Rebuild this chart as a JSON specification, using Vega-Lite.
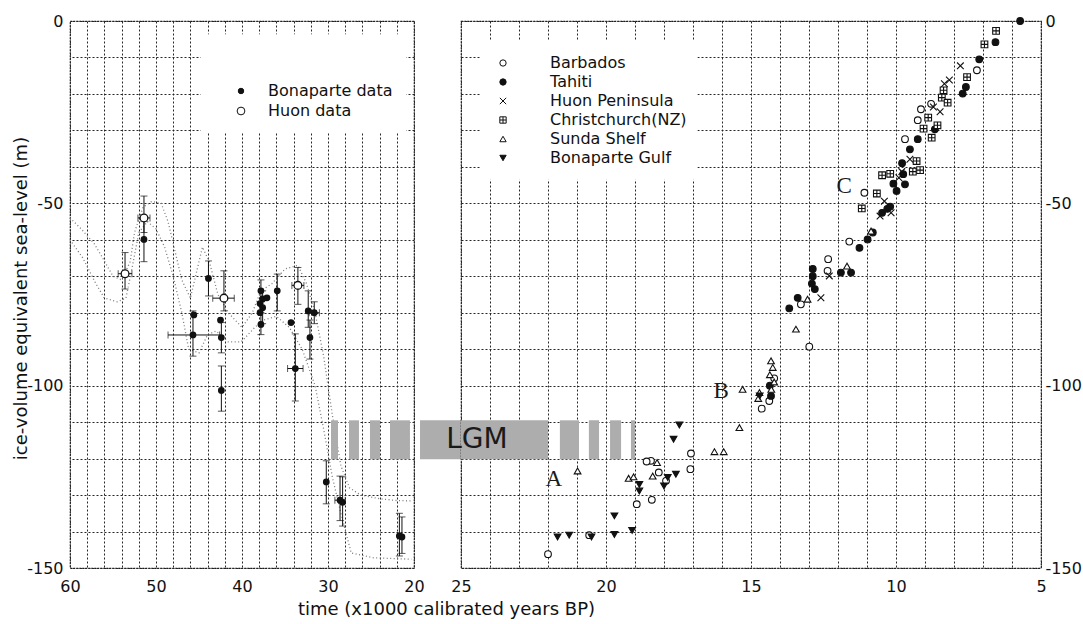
{
  "$schema": "https://vega.github.io/schema/vega-lite/v6.json",
  "background": "white",
  "padding": {"left": 11, "top": 12, "right": 0, "bottom": 5},
  "bounds": "flush",
  "spacing": 47,
  "config": {
    "font": "DejaVu Sans",
    "view": {"stroke": "#1a1a1a", "strokeWidth": 1.2, "strokeDash": [2, 1]},
    "axis": {
      "grid": true, "gridColor": "#262626", "gridDash": [2, 2], "gridWidth": 1, "gridOpacity": 1,
      "domain": false, "ticks": false, "tickCount": 60,
      "labelFont": "DejaVu Sans", "labelFontSize": 16, "labelColor": "#111",
      "labelFlush": false, "labelOverlap": false, "labelBound": false,
      "titleFont": "DejaVu Sans", "titleFontSize": 18, "titleFontWeight": "normal", "titleColor": "#111"
    },
    "legend": {"labelFont": "DejaVu Sans", "labelColor": "#111", "symbolStrokeWidth": 1}
  },
  "resolve": {
    "scale": {"x": "independent", "y": "independent", "shape": "independent", "fill": "independent", "size": "independent", "stroke": "independent"},
    "axis": {"x": "independent", "y": "independent"},
    "legend": {"shape": "independent", "fill": "independent", "size": "independent", "stroke": "independent"}
  },
  "datasets": {
    "left": [
      {"src": "Huon data", "x": 53.6, "y": -69.3, "ylo": -73.5, "yhi": -63.5, "xlo": 54.4, "xhi": 52.8},
      {"src": "Huon data", "x": 51.4, "y": -54, "ylo": -58, "yhi": -48, "xlo": 52.1, "xhi": 50.7},
      {"src": "Huon data", "x": 42.1, "y": -76, "ylo": -79.5, "yhi": -68.5, "xlo": 43.4, "xhi": 40.9},
      {"src": "Huon data", "x": 33.5, "y": -72.5, "ylo": -77.7, "yhi": -67.6, "xlo": 34.2, "xhi": 32.8},
      {"src": "Bonaparte data", "x": 51.4, "y": -59.9, "ylo": -66, "yhi": -55},
      {"src": "Bonaparte data", "x": 43.9, "y": -70.6, "ylo": -75.4, "yhi": -65.8},
      {"src": "Bonaparte data", "x": 45.7, "y": -86.1, "ylo": -91.9, "yhi": -79.5, "xlo": 48.6, "xhi": 42.6},
      {"src": "Bonaparte data", "x": 45.6, "y": -80.6},
      {"src": "Bonaparte data", "x": 42.4, "y": -86.8, "ylo": -91, "yhi": -82.7},
      {"src": "Bonaparte data", "x": 42.5, "y": -82},
      {"src": "Bonaparte data", "x": 42.4, "y": -101.3, "ylo": -107, "yhi": -94.6},
      {"src": "Bonaparte data", "x": 37.8, "y": -74, "ylo": -77, "yhi": -71},
      {"src": "Bonaparte data", "x": 37.6, "y": -76.2},
      {"src": "Bonaparte data", "x": 37.9, "y": -77.5},
      {"src": "Bonaparte data", "x": 37.6, "y": -78.6, "ylo": -83, "yhi": -74},
      {"src": "Bonaparte data", "x": 37.9, "y": -80},
      {"src": "Bonaparte data", "x": 37.8, "y": -83.2, "ylo": -86, "yhi": -80},
      {"src": "Bonaparte data", "x": 37.1, "y": -75.9},
      {"src": "Bonaparte data", "x": 35.9, "y": -74, "ylo": -79.5, "yhi": -69.4},
      {"src": "Bonaparte data", "x": 32.3, "y": -79.5, "ylo": -84, "yhi": -74},
      {"src": "Bonaparte data", "x": 31.6, "y": -80, "ylo": -83, "yhi": -77, "xlo": 32.2, "xhi": 31.0},
      {"src": "Bonaparte data", "x": 32.1, "y": -86.8, "ylo": -92.7, "yhi": -82},
      {"src": "Bonaparte data", "x": 34.3, "y": -82.7},
      {"src": "Bonaparte data", "x": 33.8, "y": -95.3, "ylo": -104.2, "yhi": -85.8, "xlo": 34.7, "xhi": 32.9},
      {"src": "Bonaparte data", "x": 30.2, "y": -126.4, "ylo": -132.4, "yhi": -120.6},
      {"src": "Bonaparte data", "x": 28.6, "y": -131.4, "ylo": -137, "yhi": -124.8, "xlo": 29.2, "xhi": 28.0},
      {"src": "Bonaparte data", "x": 28.3, "y": -132, "ylo": -138.5, "yhi": -125},
      {"src": "Bonaparte data", "x": 21.7, "y": -141.2, "ylo": -146.7, "yhi": -135},
      {"src": "Bonaparte data", "x": 21.4, "y": -141.5, "ylo": -146, "yhi": -136}
    ],
    "curves": [
      {"c": "u", "x": 60, "y": -54}, {"c": "u", "x": 58.7, "y": -57}, {"c": "u", "x": 57.2, "y": -61}, {"c": "u", "x": 56.2, "y": -65},
      {"c": "u", "x": 55, "y": -70}, {"c": "u", "x": 54, "y": -71}, {"c": "u", "x": 53, "y": -66}, {"c": "u", "x": 52.5, "y": -58},
      {"c": "u", "x": 51.5, "y": -51}, {"c": "u", "x": 50.5, "y": -49.5}, {"c": "u", "x": 49.4, "y": -50}, {"c": "u", "x": 48.6, "y": -55},
      {"c": "u", "x": 47.7, "y": -64}, {"c": "u", "x": 47, "y": -71}, {"c": "u", "x": 46, "y": -76}, {"c": "u", "x": 45.2, "y": -68},
      {"c": "u", "x": 44.6, "y": -62}, {"c": "u", "x": 43.8, "y": -66}, {"c": "u", "x": 42.8, "y": -75}, {"c": "u", "x": 41.6, "y": -80},
      {"c": "u", "x": 40, "y": -84}, {"c": "u", "x": 38.8, "y": -80}, {"c": "u", "x": 37.8, "y": -74}, {"c": "u", "x": 36.5, "y": -72},
      {"c": "u", "x": 35, "y": -68}, {"c": "u", "x": 33.5, "y": -67}, {"c": "u", "x": 32.5, "y": -72}, {"c": "u", "x": 31.5, "y": -80},
      {"c": "u", "x": 30.5, "y": -92}, {"c": "u", "x": 29.5, "y": -108}, {"c": "u", "x": 28.5, "y": -122}, {"c": "u", "x": 27.5, "y": -128},
      {"c": "u", "x": 26.2, "y": -130}, {"c": "u", "x": 24, "y": -131}, {"c": "u", "x": 22, "y": -131.5}, {"c": "u", "x": 20.3, "y": -131.6},
      {"c": "l", "x": 60, "y": -60}, {"c": "l", "x": 58.5, "y": -65}, {"c": "l", "x": 57, "y": -72}, {"c": "l", "x": 56, "y": -76},
      {"c": "l", "x": 54.5, "y": -77}, {"c": "l", "x": 53.5, "y": -76}, {"c": "l", "x": 52.8, "y": -68}, {"c": "l", "x": 52, "y": -58},
      {"c": "l", "x": 51, "y": -55}, {"c": "l", "x": 50, "y": -57}, {"c": "l", "x": 49, "y": -62}, {"c": "l", "x": 48, "y": -70},
      {"c": "l", "x": 47, "y": -80}, {"c": "l", "x": 46.2, "y": -90}, {"c": "l", "x": 45, "y": -91}, {"c": "l", "x": 44, "y": -86},
      {"c": "l", "x": 43, "y": -85}, {"c": "l", "x": 41.6, "y": -88}, {"c": "l", "x": 40.1, "y": -88}, {"c": "l", "x": 38.5, "y": -84},
      {"c": "l", "x": 37.5, "y": -82}, {"c": "l", "x": 36, "y": -81}, {"c": "l", "x": 34.5, "y": -84}, {"c": "l", "x": 33, "y": -90},
      {"c": "l", "x": 31.5, "y": -100}, {"c": "l", "x": 30.5, "y": -112}, {"c": "l", "x": 29.5, "y": -125}, {"c": "l", "x": 28.5, "y": -135},
      {"c": "l", "x": 27.3, "y": -145.9}, {"c": "l", "x": 24.7, "y": -147.2}, {"c": "l", "x": 20.3, "y": -147.6}
    ],
    "lgmLeft": [
      {"x1": 29.65, "x2": 28.84, "y1": -109.5, "y2": -120.2},
      {"x1": 27.56, "x2": 26.4, "y1": -109.5, "y2": -120.2},
      {"x1": 25.12, "x2": 23.95, "y1": -109.5, "y2": -120.2},
      {"x1": 22.79, "x2": 20.47, "y1": -109.5, "y2": -120.2},
      {"x1": 19.3, "x2": 14.4, "y1": -109.5, "y2": -120.2}
    ],
    "lgmRight": [
      {"x1": 25, "x2": 22.0, "y1": -109.5, "y2": -120.2},
      {"x1": 21.59, "x2": 20.93, "y1": -109.5, "y2": -120.2},
      {"x1": 20.59, "x2": 20.24, "y1": -109.5, "y2": -120.2},
      {"x1": 19.86, "x2": 19.48, "y1": -109.5, "y2": -120.2},
      {"x1": 19.14, "x2": 19.0, "y1": -109.5, "y2": -120.2}
    ],
    "right": [
      {"site": "Barbados", "x": 22.0, "y": -146.2}, {"site": "Barbados", "x": 20.58, "y": -141}, {"site": "Barbados", "x": 18.94, "y": -132.5},
      {"site": "Barbados", "x": 18.42, "y": -131.3}, {"site": "Barbados", "x": 18.45, "y": -120.6}, {"site": "Barbados", "x": 18.18, "y": -123.8},
      {"site": "Barbados", "x": 17.93, "y": -126.1}, {"site": "Barbados", "x": 17.07, "y": -118.6}, {"site": "Barbados", "x": 17.09, "y": -122.9},
      {"site": "Barbados", "x": 18.6, "y": -120.8}, {"site": "Barbados", "x": 14.63, "y": -106.3}, {"site": "Barbados", "x": 14.37, "y": -104.2},
      {"site": "Barbados", "x": 14.2, "y": -98}, {"site": "Barbados", "x": 12.99, "y": -89.3}, {"site": "Barbados", "x": 13.28, "y": -77.7},
      {"site": "Barbados", "x": 12.36, "y": -68.5}, {"site": "Barbados", "x": 12.34, "y": -65.3}, {"site": "Barbados", "x": 11.61, "y": -60.5},
      {"site": "Barbados", "x": 11.09, "y": -47.1}, {"site": "Barbados", "x": 9.69, "y": -32.4}, {"site": "Barbados", "x": 9.25, "y": -27.2},
      {"site": "Barbados", "x": 9.14, "y": -24.2}, {"site": "Barbados", "x": 8.79, "y": -22.7}, {"site": "Barbados", "x": 7.21, "y": -13.5},
      {"site": "Tahiti", "x": 5.72, "y": 0}, {"site": "Tahiti", "x": 6.57, "y": -5.8}, {"site": "Tahiti", "x": 7.13, "y": -10.5},
      {"site": "Tahiti", "x": 7.59, "y": -18.1}, {"site": "Tahiti", "x": 7.7, "y": -19.9}, {"site": "Tahiti", "x": 8.66, "y": -29.7},
      {"site": "Tahiti", "x": 9.25, "y": -32.4}, {"site": "Tahiti", "x": 9.52, "y": -35.2}, {"site": "Tahiti", "x": 9.79, "y": -39},
      {"site": "Tahiti", "x": 9.75, "y": -42}, {"site": "Tahiti", "x": 10.09, "y": -44.6}, {"site": "Tahiti", "x": 9.98, "y": -46.6},
      {"site": "Tahiti", "x": 9.69, "y": -44.8}, {"site": "Tahiti", "x": 10.2, "y": -50.9}, {"site": "Tahiti", "x": 10.48, "y": -52.6},
      {"site": "Tahiti", "x": 10.3, "y": -51.5}, {"site": "Tahiti", "x": 10.8, "y": -58}, {"site": "Tahiti", "x": 10.98, "y": -59.9},
      {"site": "Tahiti", "x": 11.26, "y": -62.2}, {"site": "Tahiti", "x": 11.55, "y": -69}, {"site": "Tahiti", "x": 11.9, "y": -69},
      {"site": "Tahiti", "x": 12.87, "y": -68}, {"site": "Tahiti", "x": 12.87, "y": -70}, {"site": "Tahiti", "x": 12.9, "y": -72},
      {"site": "Tahiti", "x": 12.8, "y": -73.5}, {"site": "Tahiti", "x": 13.39, "y": -75.9}, {"site": "Tahiti", "x": 13.68, "y": -78.8},
      {"site": "Tahiti", "x": 14.31, "y": -102.8}, {"site": "Tahiti", "x": 14.35, "y": -100},
      {"site": "Huon Peninsula", "x": 7.78, "y": -12.3}, {"site": "Huon Peninsula", "x": 8.16, "y": -16.2}, {"site": "Huon Peninsula", "x": 8.33, "y": -17.2},
      {"site": "Huon Peninsula", "x": 8.71, "y": -23.6}, {"site": "Huon Peninsula", "x": 8.48, "y": -24.9}, {"site": "Huon Peninsula", "x": 9.52, "y": -37.9},
      {"site": "Huon Peninsula", "x": 9.8, "y": -41.3}, {"site": "Huon Peninsula", "x": 9.9, "y": -43}, {"site": "Huon Peninsula", "x": 10.4, "y": -49.4},
      {"site": "Huon Peninsula", "x": 10.17, "y": -52.6}, {"site": "Huon Peninsula", "x": 10.55, "y": -53.5}, {"site": "Huon Peninsula", "x": 12.3, "y": -69.9},
      {"site": "Huon Peninsula", "x": 12.59, "y": -75.9},
      {"site": "Christchurch(NZ)", "x": 6.55, "y": -2.7}, {"site": "Christchurch(NZ)", "x": 6.95, "y": -6.4}, {"site": "Christchurch(NZ)", "x": 7.55, "y": -15.4},
      {"site": "Christchurch(NZ)", "x": 8.36, "y": -19}, {"site": "Christchurch(NZ)", "x": 8.42, "y": -21}, {"site": "Christchurch(NZ)", "x": 8.22, "y": -22.4},
      {"site": "Christchurch(NZ)", "x": 8.89, "y": -26.5}, {"site": "Christchurch(NZ)", "x": 9.05, "y": -29.5}, {"site": "Christchurch(NZ)", "x": 8.57, "y": -28.6},
      {"site": "Christchurch(NZ)", "x": 8.77, "y": -32}, {"site": "Christchurch(NZ)", "x": 9.29, "y": -38.4}, {"site": "Christchurch(NZ)", "x": 9.17, "y": -40.9},
      {"site": "Christchurch(NZ)", "x": 9.42, "y": -41.3}, {"site": "Christchurch(NZ)", "x": 10.2, "y": -41.9}, {"site": "Christchurch(NZ)", "x": 10.48, "y": -42.3},
      {"site": "Christchurch(NZ)", "x": 10.66, "y": -47.3}, {"site": "Christchurch(NZ)", "x": 11.18, "y": -51.4},
      {"site": "Sunda Shelf", "x": 20.98, "y": -123.4}, {"site": "Sunda Shelf", "x": 19.22, "y": -125.4}, {"site": "Sunda Shelf", "x": 19.05, "y": -125},
      {"site": "Sunda Shelf", "x": 18.39, "y": -124.8}, {"site": "Sunda Shelf", "x": 18.24, "y": -121.1}, {"site": "Sunda Shelf", "x": 16.26, "y": -118.1},
      {"site": "Sunda Shelf", "x": 15.94, "y": -118.1}, {"site": "Sunda Shelf", "x": 15.4, "y": -111.5}, {"site": "Sunda Shelf", "x": 15.29, "y": -101},
      {"site": "Sunda Shelf", "x": 14.71, "y": -101.9}, {"site": "Sunda Shelf", "x": 14.75, "y": -103.5}, {"site": "Sunda Shelf", "x": 14.31, "y": -93.2},
      {"site": "Sunda Shelf", "x": 14.25, "y": -95}, {"site": "Sunda Shelf", "x": 14.35, "y": -97}, {"site": "Sunda Shelf", "x": 14.2, "y": -99},
      {"site": "Sunda Shelf", "x": 14.3, "y": -101}, {"site": "Sunda Shelf", "x": 13.45, "y": -84.5}, {"site": "Sunda Shelf", "x": 13.05, "y": -76.3},
      {"site": "Sunda Shelf", "x": 11.69, "y": -67.2}, {"site": "Sunda Shelf", "x": 10.86, "y": -57.6},
      {"site": "Bonaparte Gulf", "x": 21.67, "y": -141.5}, {"site": "Bonaparte Gulf", "x": 21.27, "y": -141}, {"site": "Bonaparte Gulf", "x": 20.5, "y": -141.5},
      {"site": "Bonaparte Gulf", "x": 19.71, "y": -140.8}, {"site": "Bonaparte Gulf", "x": 19.71, "y": -135.7}, {"site": "Bonaparte Gulf", "x": 19.1, "y": -139.7},
      {"site": "Bonaparte Gulf", "x": 18.85, "y": -128.9}, {"site": "Bonaparte Gulf", "x": 18.85, "y": -127.1}, {"site": "Bonaparte Gulf", "x": 18.0, "y": -127.5},
      {"site": "Bonaparte Gulf", "x": 17.87, "y": -125.2}, {"site": "Bonaparte Gulf", "x": 17.59, "y": -124.3}, {"site": "Bonaparte Gulf", "x": 17.67, "y": -114.7},
      {"site": "Bonaparte Gulf", "x": 17.47, "y": -110.8}, {"site": "Bonaparte Gulf", "x": 14.7, "y": -102.8}
    ]
  },
  "hconcat": [
    {
      "width": 344,
      "height": 547,
      "layer": [
        {
          "data": {"values": [{"x1": 44.8, "x2": 20.9, "y1": -3.6, "y2": -30.6}]},
          "mark": {"type": "rect", "fill": "white"},
          "encoding": {
            "x": {"field": "x1", "type": "quantitative", "title": "time (x1000 calibrated years BP)", "scale": {"domain": [20, 60], "reverse": true, "nice": false, "zero": false},
              "axis": {"values": [20, 22, 24, 26, 28, 30, 32, 34, 36, 38, 40, 42, 44, 46, 48, 50, 52, 54, 56, 58, 60], "tickCount": 60,
                "labelExpr": "datum.value % 10 === 0 ? '' + datum.value : ''", "labelPadding": 10,
                "titleX": 376, "titleY": 41, "titleBaseline": "middle"}},
            "x2": {"field": "x2"},
            "y": {"field": "y1", "type": "quantitative", "title": "ice-volume equivalent sea-level (m)", "scale": {"domain": [-150, 0], "nice": false, "zero": false},
              "axis": {"values": [-150, -140, -130, -120, -110, -100, -90, -80, -70, -60, -50, -40, -30, -20, -10, 0], "tickCount": 60,
                "labelExpr": "datum.value % 50 === 0 ? '' + datum.value : ''", "labelPadding": 7,
                "titleX": -49, "titleY": 277, "titleBaseline": "middle"}},
            "y2": {"field": "y2"}
          }
        },
        {
          "data": {"name": "curves"},
          "mark": {"type": "line", "stroke": "#7a7a7a", "strokeDash": [1, 2.5], "strokeWidth": 1.3},
          "encoding": {
            "x": {"field": "x", "type": "quantitative", "title": "time (x1000 calibrated years BP)", "scale": {"domain": [20, 60], "reverse": true, "nice": false, "zero": false}},
            "y": {"field": "y", "type": "quantitative", "title": "ice-volume equivalent sea-level (m)", "scale": {"domain": [-150, 0], "nice": false, "zero": false}},
            "detail": {"field": "c"}
          }
        },
        {
          "data": {"name": "left"},
          "transform": [{"filter": "datum.ylo != null"}],
          "mark": {"type": "rule", "stroke": "#111", "strokeWidth": 1},
          "encoding": {
            "x": {"field": "x", "type": "quantitative", "title": "time (x1000 calibrated years BP)", "scale": {"domain": [20, 60], "reverse": true, "nice": false, "zero": false}},
            "y": {"field": "ylo", "type": "quantitative", "title": "ice-volume equivalent sea-level (m)", "scale": {"domain": [-150, 0], "nice": false, "zero": false}},
            "y2": {"field": "yhi"}
          }
        },
        {
          "data": {"name": "left"},
          "transform": [{"filter": "datum.xlo != null"}],
          "mark": {"type": "rule", "stroke": "#111", "strokeWidth": 1},
          "encoding": {
            "x": {"field": "xlo", "type": "quantitative", "title": "time (x1000 calibrated years BP)", "scale": {"domain": [20, 60], "reverse": true, "nice": false, "zero": false}},
            "x2": {"field": "xhi"},
            "y": {"field": "y", "type": "quantitative", "title": "ice-volume equivalent sea-level (m)", "scale": {"domain": [-150, 0], "nice": false, "zero": false}}
          }
        },
        {
          "data": {"name": "left"},
          "transform": [{"filter": "datum.ylo != null"}],
          "mark": {"type": "tick", "orient": "horizontal", "color": "#111", "size": 7, "thickness": 1},
          "encoding": {
            "x": {"field": "x", "type": "quantitative", "title": "time (x1000 calibrated years BP)", "scale": {"domain": [20, 60], "reverse": true, "nice": false, "zero": false}},
            "y": {"field": "ylo", "type": "quantitative", "title": "ice-volume equivalent sea-level (m)", "scale": {"domain": [-150, 0], "nice": false, "zero": false}}
          }
        },
        {
          "data": {"name": "left"},
          "transform": [{"filter": "datum.yhi != null"}],
          "mark": {"type": "tick", "orient": "horizontal", "color": "#111", "size": 7, "thickness": 1},
          "encoding": {
            "x": {"field": "x", "type": "quantitative", "title": "time (x1000 calibrated years BP)", "scale": {"domain": [20, 60], "reverse": true, "nice": false, "zero": false}},
            "y": {"field": "yhi", "type": "quantitative", "title": "ice-volume equivalent sea-level (m)", "scale": {"domain": [-150, 0], "nice": false, "zero": false}}
          }
        },
        {
          "data": {"name": "left"},
          "transform": [{"filter": "datum.xlo != null"}],
          "mark": {"type": "tick", "orient": "vertical", "color": "#111", "size": 7, "thickness": 1},
          "encoding": {
            "x": {"field": "xlo", "type": "quantitative", "title": "time (x1000 calibrated years BP)", "scale": {"domain": [20, 60], "reverse": true, "nice": false, "zero": false}},
            "y": {"field": "y", "type": "quantitative", "title": "ice-volume equivalent sea-level (m)", "scale": {"domain": [-150, 0], "nice": false, "zero": false}}
          }
        },
        {
          "data": {"name": "left"},
          "transform": [{"filter": "datum.xhi != null"}],
          "mark": {"type": "tick", "orient": "vertical", "color": "#111", "size": 7, "thickness": 1},
          "encoding": {
            "x": {"field": "xhi", "type": "quantitative", "title": "time (x1000 calibrated years BP)", "scale": {"domain": [20, 60], "reverse": true, "nice": false, "zero": false}},
            "y": {"field": "y", "type": "quantitative", "title": "ice-volume equivalent sea-level (m)", "scale": {"domain": [-150, 0], "nice": false, "zero": false}}
          }
        },
        {
          "data": {"name": "left"},
          "mark": {"type": "point", "color": "#111", "filled": false, "strokeWidth": 1.3, "opacity": 1},
          "encoding": {
            "x": {"field": "x", "type": "quantitative", "title": "time (x1000 calibrated years BP)", "scale": {"domain": [20, 60], "reverse": true, "nice": false, "zero": false}},
            "y": {"field": "y", "type": "quantitative", "title": "ice-volume equivalent sea-level (m)", "scale": {"domain": [-150, 0], "nice": false, "zero": false}},
            "shape": {"field": "src", "type": "nominal", "scale": {"domain": ["Bonaparte data", "Huon data"], "range": ["circle", "circle"]},
              "legend": {"orient": "none", "legendX": 163, "legendY": 62, "title": null, "labelFontSize": 16, "rowPadding": 4, "labelOffset": 19}},
            "fill": {"field": "src", "type": "nominal", "scale": {"domain": ["Bonaparte data", "Huon data"], "range": ["#111", "white"]},
              "legend": {"orient": "none", "legendX": 163, "legendY": 62, "title": null, "labelFontSize": 16, "rowPadding": 4, "labelOffset": 19}},
            "stroke": {"field": "src", "type": "nominal", "scale": {"domain": ["Bonaparte data", "Huon data"], "range": ["#111", "#111"]},
              "legend": {"orient": "none", "legendX": 163, "legendY": 62, "title": null, "labelFontSize": 16, "rowPadding": 4, "labelOffset": 19}},
            "size": {"field": "src", "type": "nominal", "scale": {"domain": ["Bonaparte data", "Huon data"], "range": [30, 60]},
              "legend": {"orient": "none", "legendX": 163, "legendY": 62, "title": null, "labelFontSize": 16, "rowPadding": 4, "labelOffset": 19}}
          }
        },
        {
          "data": {"name": "lgmLeft"},
          "mark": {"type": "rect", "fill": "#adadad"},
          "encoding": {
            "x": {"field": "x1", "type": "quantitative", "title": "time (x1000 calibrated years BP)", "scale": {"domain": [20, 60], "reverse": true, "nice": false, "zero": false}},
            "x2": {"field": "x2"},
            "y": {"field": "y1", "type": "quantitative", "title": "ice-volume equivalent sea-level (m)", "scale": {"domain": [-150, 0], "nice": false, "zero": false}},
            "y2": {"field": "y2"}
          }
        }
      ]
    },
    {
      "width": 580,
      "height": 547,
      "layer": [
        {
          "data": {"values": [{"x1": 24.31, "x2": 16.85, "y1": -5.5, "y2": -43.5}]},
          "mark": {"type": "rect", "fill": "white"},
          "encoding": {
            "x": {"field": "x1", "type": "quantitative", "title": null, "scale": {"domain": [5, 25], "reverse": true, "nice": false, "zero": false},
              "axis": {"values": [5, 6, 7, 8, 9, 10, 11, 12, 13, 14, 15, 16, 17, 18, 19, 20, 21, 22, 23, 24, 25], "tickCount": 60,
                "labelExpr": "datum.value % 5 === 0 ? '' + datum.value : ''", "labelPadding": 10}},
            "x2": {"field": "x2"},
            "y": {"field": "y1", "type": "quantitative", "title": null, "scale": {"domain": [-150, 0], "nice": false, "zero": false},
              "axis": {"orient": "right", "values": [-150, -140, -130, -120, -110, -100, -90, -80, -70, -60, -50, -40, -30, -20, -10, 0], "tickCount": 60,
                "labelExpr": "datum.value % 50 === 0 ? '' + datum.value : ''", "labelPadding": 4}},
            "y2": {"field": "y2"}
          }
        },
        {
          "data": {"name": "lgmRight"},
          "mark": {"type": "rect", "fill": "#adadad"},
          "encoding": {
            "x": {"field": "x1", "type": "quantitative", "title": null, "scale": {"domain": [5, 25], "reverse": true, "nice": false, "zero": false}},
            "x2": {"field": "x2"},
            "y": {"field": "y1", "type": "quantitative", "title": null, "scale": {"domain": [-150, 0], "nice": false, "zero": false}},
            "y2": {"field": "y2"}
          }
        },
        {
          "data": {"values": [{"t": "LGM", "x": 24.45, "y": -114.9}]},
          "mark": {"type": "text", "font": "DejaVu Sans", "fontSize": 28, "color": "#1a1a1a", "align": "center", "baseline": "middle"},
          "encoding": {
            "x": {"field": "x", "type": "quantitative", "title": null, "scale": {"domain": [5, 25], "reverse": true, "nice": false, "zero": false}},
            "y": {"field": "y", "type": "quantitative", "title": null, "scale": {"domain": [-150, 0], "nice": false, "zero": false}},
            "text": {"field": "t"}
          }
        },
        {
          "data": {"name": "right"},
          "mark": {"type": "point", "color": "#111", "filled": false, "strokeWidth": 1.1, "opacity": 1, "size": 45},
          "encoding": {
            "x": {"field": "x", "type": "quantitative", "title": null, "scale": {"domain": [5, 25], "reverse": true, "nice": false, "zero": false}},
            "y": {"field": "y", "type": "quantitative", "title": null, "scale": {"domain": [-150, 0], "nice": false, "zero": false}},
            "shape": {"field": "site", "type": "nominal",
              "scale": {"domain": ["Barbados", "Tahiti", "Huon Peninsula", "Christchurch(NZ)", "Sunda Shelf", "Bonaparte Gulf"],
                "range": ["circle", "circle", "M-1,-1L1,1M1,-1L-1,1", "M-1,-1H1V1H-1ZM0,-1V1M-1,0H1", "triangle-up", "triangle-down"]},
              "legend": {"orient": "none", "legendX": 34, "legendY": 34, "title": null, "labelFontSize": 16, "symbolSize": 40, "rowPadding": 3, "labelOffset": 39}},
            "fill": {"field": "site", "type": "nominal",
              "scale": {"domain": ["Barbados", "Tahiti", "Huon Peninsula", "Christchurch(NZ)", "Sunda Shelf", "Bonaparte Gulf"],
                "range": ["white", "#111", "transparent", "white", "white", "#111"]},
              "legend": {"orient": "none", "legendX": 34, "legendY": 34, "title": null, "labelFontSize": 16, "symbolSize": 40, "rowPadding": 3, "labelOffset": 39}},
            "stroke": {"field": "site", "type": "nominal",
              "scale": {"domain": ["Barbados", "Tahiti", "Huon Peninsula", "Christchurch(NZ)", "Sunda Shelf", "Bonaparte Gulf"],
                "range": ["#111", "#111", "#111", "#111", "#111", "#111"]},
              "legend": {"orient": "none", "legendX": 34, "legendY": 34, "title": null, "labelFontSize": 16, "symbolSize": 40, "rowPadding": 3, "labelOffset": 39}}
          }
        },
        {
          "data": {"values": [{"t": "A", "x": 21.8, "y": -125.6}, {"t": "B", "x": 16.03, "y": -101.5}, {"t": "C", "x": 11.79, "y": -45.2}]},
          "mark": {"type": "text", "font": "Liberation Serif", "fontSize": 23, "color": "#1a1a1a", "align": "center", "baseline": "middle"},
          "encoding": {
            "x": {"field": "x", "type": "quantitative", "title": null, "scale": {"domain": [5, 25], "reverse": true, "nice": false, "zero": false}},
            "y": {"field": "y", "type": "quantitative", "title": null, "scale": {"domain": [-150, 0], "nice": false, "zero": false}},
            "text": {"field": "t"}
          }
        }
      ]
    }
  ]
}
